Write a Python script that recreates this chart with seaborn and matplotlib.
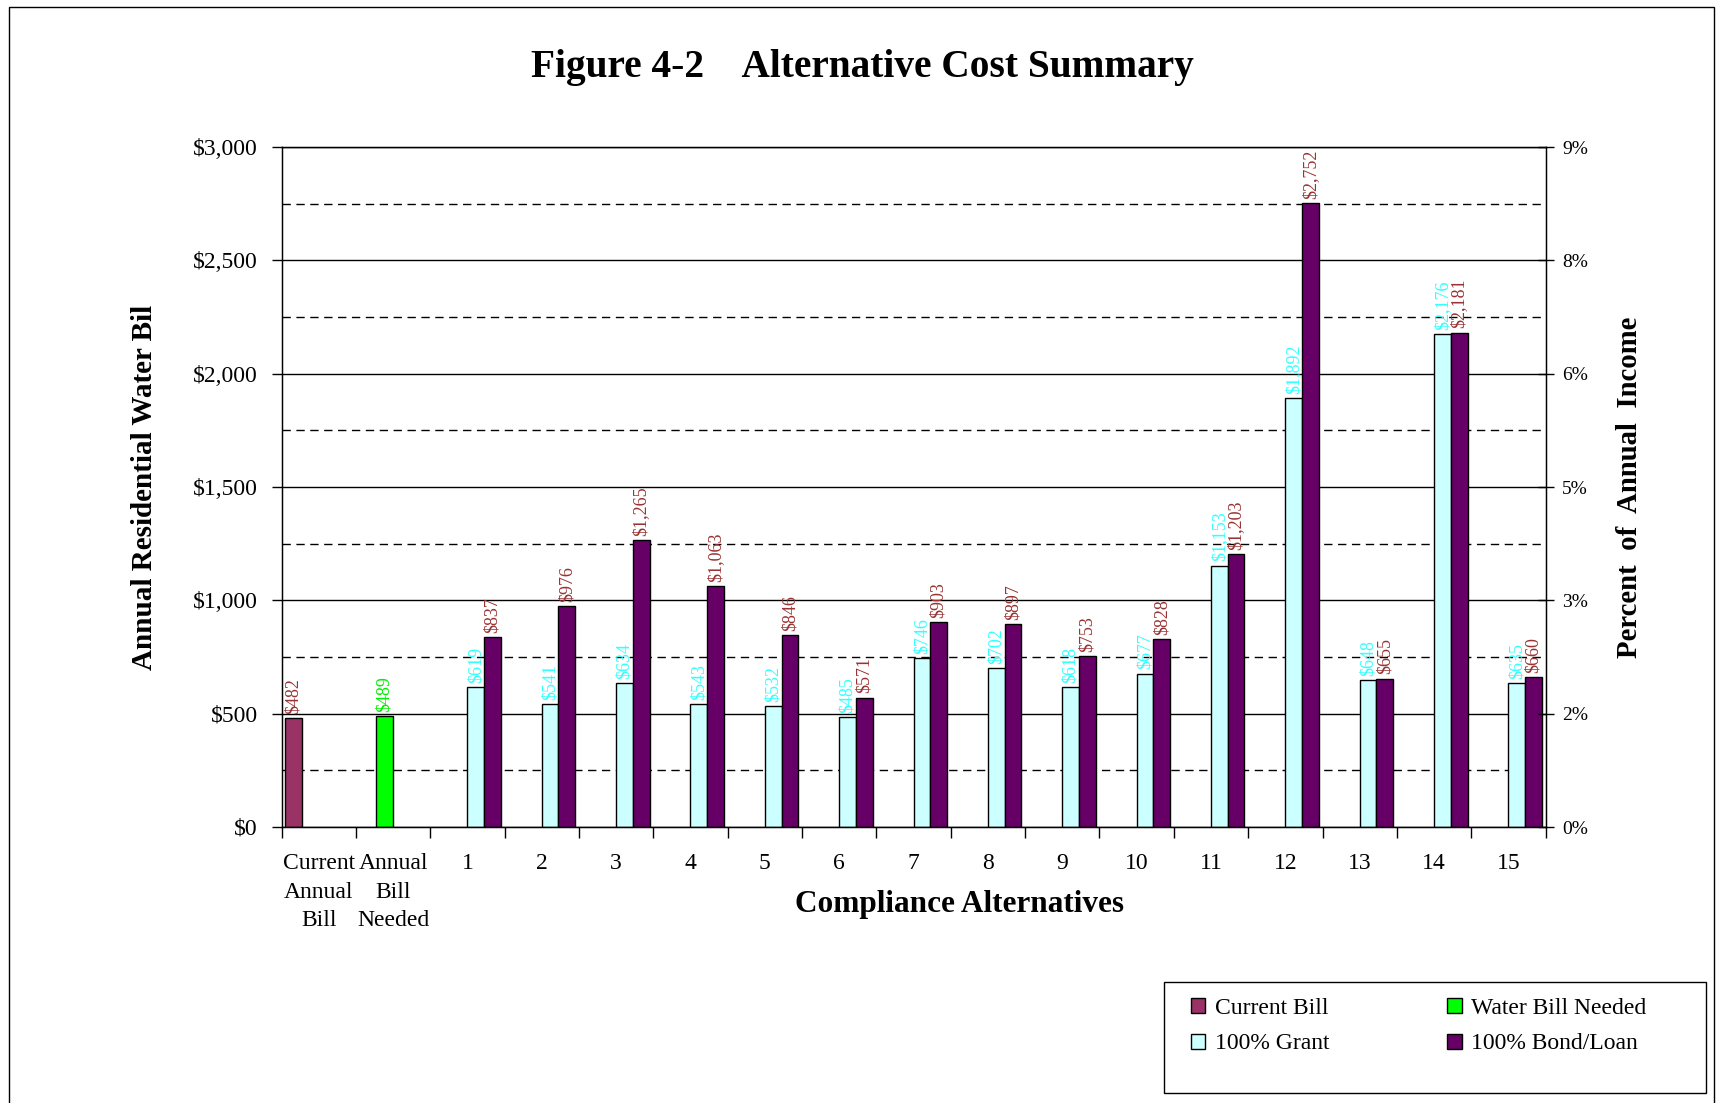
import numpy as np
import pandas as pd
import matplotlib
matplotlib.use("Agg")
import matplotlib.pyplot as plt
from matplotlib.patches import Rectangle
from matplotlib.ticker import MultipleLocator, FuncFormatter
import seaborn as sns

# Data
categories = ["Current\nAnnual\nBill", "Annual\nBill\nNeeded"] + [str(i) for i in range(1, 16)]
alternatives = [str(i) for i in range(1, 16)]
current_bill = [482]
bill_needed = [489]
grant = [619, 541, 634, 543, 532, 485, 746, 702, 618, 677, 1153, 1892, 648, 2176, 635]
bond_loan = [837, 976, 1265, 1063, 846, 571, 903, 897, 753, 828, 1203, 2752, 655, 2181, 660]
series = ["Current Bill", "Water Bill Needed", "100% Grant", "100% Bond/Loan"]
bar_colors = ["#993366", "#00FF00", "#CCFFFF", "#660066"]
label_colors = ["#993333", "#00EE00", "#33FFFF", "#993333"]
pct_ticks = [0, 1.5, 3, 4.5, 6, 7.5, 9]
pct_labels = ["0%", "2%", "3%", "5%", "6%", "8%", "9%"]

rows = [(categories[0], series[0], current_bill[0]), (categories[1], series[1], bill_needed[0])]
rows += [(a, series[2], v) for a, v in zip(alternatives, grant)]
rows += [(a, series[3], v) for a, v in zip(alternatives, bond_loan)]
df = pd.DataFrame(rows, columns=["alt", "series", "bill"])

sns.set_style("ticks")
plt.rcParams["font.family"] = ["Liberation Serif", "DejaVu Serif"]
plt.rcParams["text.color"] = "black"
plt.rcParams["axes.labelcolor"] = "black"
plt.rcParams["xtick.color"] = "black"
plt.rcParams["ytick.color"] = "black"

W, H = 1717, 1103
fig = plt.figure(figsize=(W / 100, H / 100), dpi=100)
ax = fig.add_axes([281.5 / W, 1 - 827 / H, (1545.6 - 281.5) / W, (827 - 147) / H])

sns.barplot(data=df, x="alt", y="bill", hue="series", order=categories, hue_order=series,
            palette=dict(zip(series, bar_colors)), saturation=1, width=0.9,
            edgecolor="black", linewidth=1, errorbar=None, legend=False, ax=ax)

# value labels
for cont, lc in zip(ax.containers, label_colors):
    for bar in cont:
        h = bar.get_height()
        if np.isnan(h):
            continue
        ax.annotate(f"${h:,.0f}", (bar.get_x() + bar.get_width() / 2, h),
                    xytext=(0, 3), textcoords="offset points", rotation=90,
                    ha="center", va="bottom", color=lc, fontsize=13)

ax.set_xlim(-0.5, len(categories) - 0.5)
ax.set_ylim(0, 3000)
ax.yaxis.set_major_locator(MultipleLocator(500))
ax.yaxis.set_minor_locator(MultipleLocator(250))
ax.yaxis.set_major_formatter(FuncFormatter(lambda v, p: f"${v:,.0f}"))
ax.grid(axis="y", which="major", color="black", lw=1)
ax.grid(axis="y", which="minor", color="black", lw=1, ls=(0, (6, 4)))
ax.set_axisbelow(True)
ax.tick_params(axis="y", which="major", length=7, width=1, labelsize=17, pad=10)
ax.tick_params(axis="y", which="minor", length=0)
ax.set_xticks(np.arange(-0.5, len(categories), 1), minor=True)
ax.tick_params(axis="x", which="major", length=0, labelsize=17, pad=19)
ax.tick_params(axis="x", which="minor", length=8, width=1)
for lbl in ax.get_xticklabels():
    lbl.set_linespacing(1.45)
for spine in ax.spines.values():
    spine.set_visible(True)
    spine.set_color("black")
    spine.set_linewidth(1)

ax.set_xlabel("Compliance Alternatives", fontsize=22.5, fontweight="bold", va="center")
ax.xaxis.set_label_coords(0.536, -0.1135)
ax.set_ylabel("Annual Residential Water Bil", fontsize=21, fontweight="bold", va="center")
ax.yaxis.set_label_coords(-0.1087, 0.5)

ax2 = ax.twinx()
ax2.set_ylim(0, 9)
ax2.set_yticks(pct_ticks)
ax2.set_yticklabels(pct_labels)
ax2.tick_params(axis="y", direction="inout", length=12, width=1, labelsize=14, pad=6)
ax2.set_ylabel("Percent  of  Annual  Income", fontsize=20.7, fontweight="bold", va="center")
ax2.yaxis.set_label_coords(1.066, 0.5)
for spine in ax2.spines.values():
    spine.set_color("black")

fig.text(862 / W, 1 - 67 / H, "Figure 4-2    Alternative Cost Summary",
         ha="center", va="center", fontsize=28.4, fontweight="bold")

# legend box
fig.add_artist(Rectangle((1164 / W, 1 - 1093 / H), (1706 - 1164) / W, (1093 - 982) / H,
                         transform=fig.transFigure, fill=False, edgecolor="black", lw=1))
handles = [c.patches[0] for c in ax.containers]
order = [0, 2, 1, 3]
fig.legend([handles[i] for i in order], [series[i] for i in order], ncol=2,
           loc="upper left", bbox_to_anchor=(1170 / W, 1 - 977 / H), frameon=False,
           fontsize=17, handlelength=0.6, handleheight=0.6, handletextpad=0.4,
           columnspacing=5.0, labelspacing=0.6)

# outer border
fig.add_artist(Rectangle((9 / W, -0.01), (1714 - 9) / W, 1.01 - 7 / H,
                         transform=fig.transFigure, fill=False, edgecolor="black", lw=1))

fig.savefig("out.png", dpi=100)
